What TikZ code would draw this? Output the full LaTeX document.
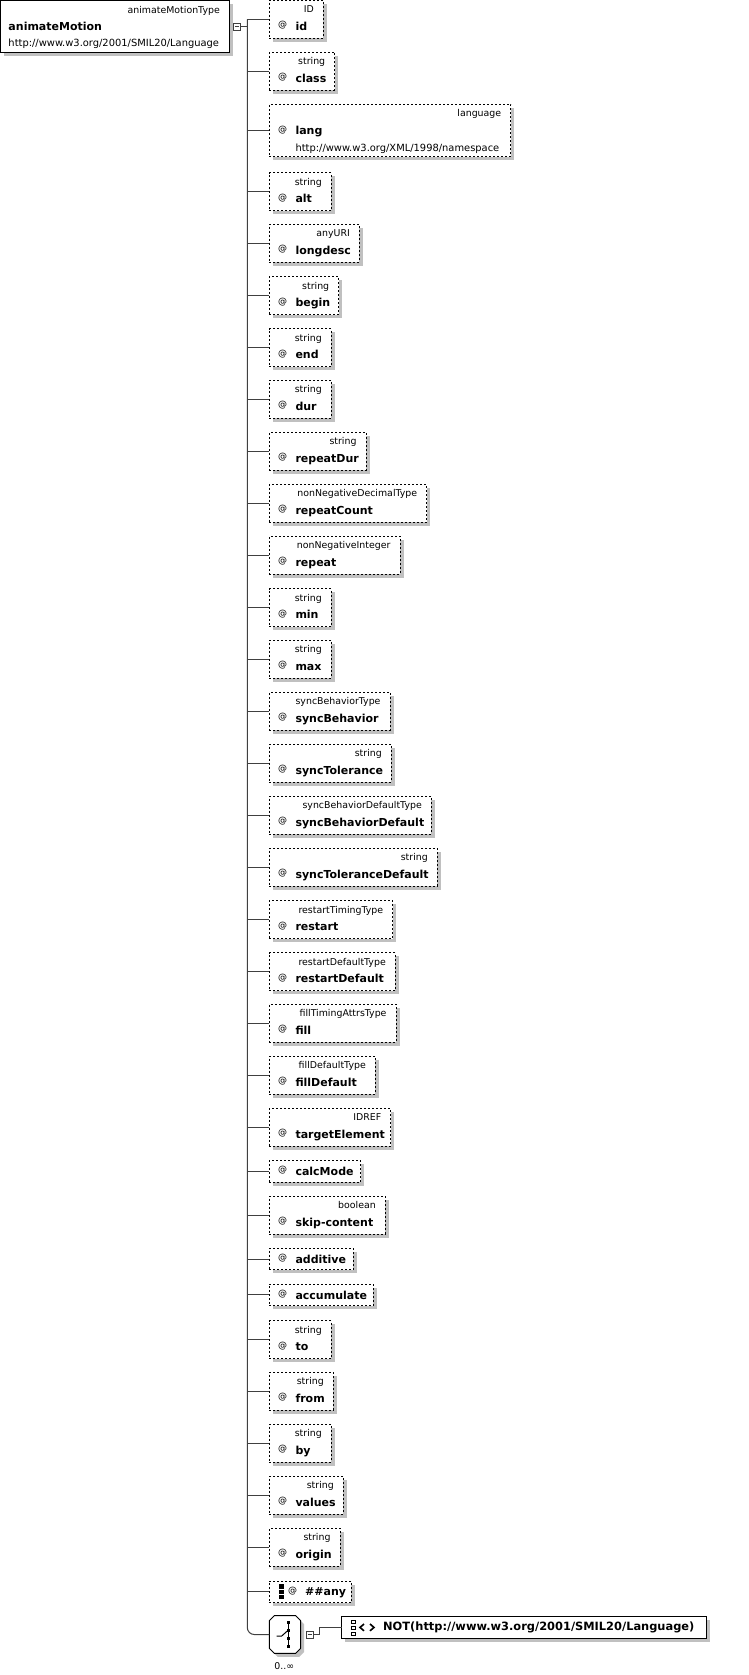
\documentclass[tikz,border=0pt]{standalone}
\usepackage{fontspec}
\setmainfont{DejaVu Sans}
\usetikzlibrary{calc,shadows}

\definecolor{linegray}{RGB}{64,64,64}
\definecolor{shadowgray}{RGB}{192,192,192}

\tikzset{
  conn/.style={draw=linegray, line width=1pt},
  boxshadow/.style={drop shadow={shadow xshift=3.5pt, shadow yshift=-3.5pt, opacity=1, fill=shadowgray}},
  attr/.style={draw=black, dash pattern=on 2pt off 2pt, line width=1pt, fill=white,
    inner sep=0pt, outer sep=0pt, anchor=north west, boxshadow},
  solidbox/.style={draw=black, line width=1pt, fill=white, inner sep=0pt, outer sep=0pt,
    anchor=north west, boxshadow},
  typelbl/.style={inner sep=0pt, anchor=base east, font=\fontsize{9.4}{11}\selectfont},
  nslbl/.style={inner sep=0pt, anchor=base west, font=\fontsize{9.9}{11}\selectfont},
  namelbl/.style={inner sep=0pt, anchor=base west, font=\fontsize{11}{13}\selectfont\bfseries},
  atlbl/.style={inner sep=0pt, anchor=base west, font=\fontsize{9}{10}\selectfont},
  minusbox/.style={draw=linegray, line width=0.8pt, fill=white, minimum size=7.4pt,
    inner sep=0pt, outer sep=0pt,
    path picture={\draw[line width=0.8pt, linegray]
      ([xshift=1.5pt]path picture bounding box.west) --
      ([xshift=-1.5pt]path picture bounding box.east);}},
}

% attribute with a type line above the name: name, top, right edge, type, label
\newcommand\attrtwo[5]{%
  \node[attr, minimum width={#3-269.3}, minimum height=37.8] (#1) at (269.3,#2) {};
  \node[typelbl] (#1-type) at ($(#1.north east)+(-9.3,12.5)$) {#4};
  \node[atlbl] (#1-at) at ($(#1.north west)+(8.5,27.5)$) {@};
  \node[namelbl] (#1-name) at ($(#1.north west)+(26,30.2)$) {#5};
  \draw[conn] (#1.west) -- (#1.west -| trunk);
}
% attribute without a type: name, top, right edge, label
\newcommand\attrone[4]{%
  \node[attr, minimum width={#3-269.3}, minimum height=21.6] (#1) at (269.3,#2) {};
  \node[atlbl] (#1-at) at ($(#1.north west)+(8.5,12.2)$) {@};
  \node[namelbl] (#1-name) at ($(#1.north west)+(26,15)$) {#4};
  \draw[conn] (#1.west) -- (#1.west -| trunk);
}

\begin{document}
\begin{tikzpicture}[x=1pt, y=-1pt]
\fill[white] (0,0) rectangle (748,1675);
\useasboundingbox (0,0) rectangle (748,1675);

\coordinate (trunk) at (247.3,0);

% element box
\node[solidbox, minimum width=228.8, minimum height=52.2] (root) at (0.5,0.5) {};
\node[typelbl] (root-type) at (220,13.3) {animateMotionType};
\node[namelbl] (root-name) at (8.3,30.7) {animateMotion};
\node[nslbl] (root-ns) at (8.3,46.7) {http://www.w3.org/2001/SMIL20/Language};
\node[minusbox] (rootcol) at (237,26.7) {};
\draw[conn] (rootcol.east) -- (rootcol.east -| trunk);

% attributes
\attrtwo{a-id}{0.5}{323.3}{ID}{id}
\attrtwo{a-class}{52.3}{334.7}{string}{class}

\node[attr, minimum width={510.7-269.3}, minimum height=52.4] (a-lang) at (269.3,104.3) {};
\node[typelbl] (a-lang-type) at ($(a-lang.north east)+(-9.3,12.4)$) {language};
\node[atlbl] (a-lang-at) at ($(a-lang.north west)+(8.5,28)$) {@};
\node[namelbl] (a-lang-name) at ($(a-lang.north west)+(26,30.7)$) {lang};
\node[nslbl] (a-lang-ns) at ($(a-lang.north west)+(26,47.4)$) {http://www.w3.org/XML/1998/namespace};
\draw[conn] (a-lang.west) -- (a-lang.west -| trunk);

\attrtwo{a-alt}{172.7}{331.3}{string}{alt}
\attrtwo{a-longdesc}{224.3}{359.3}{anyURI}{longdesc}
\attrtwo{a-begin}{276.7}{338.7}{string}{begin}
\attrtwo{a-end}{328.7}{331.3}{string}{end}
\attrtwo{a-dur}{380.3}{331.3}{string}{dur}
\attrtwo{a-repeatDur}{432.3}{366}{string}{repeatDur}
\attrtwo{a-repeatCount}{484.3}{426.7}{nonNegativeDecimalType}{repeatCount}
\attrtwo{a-repeat}{536.3}{400}{nonNegativeInteger}{repeat}
\attrtwo{a-min}{588.7}{331.3}{string}{min}
\attrtwo{a-max}{640.3}{331.3}{string}{max}
\attrtwo{a-syncBehavior}{692.3}{390}{syncBehaviorType}{syncBehavior}
\attrtwo{a-syncTolerance}{744.3}{391.3}{string}{syncTolerance}
\attrtwo{a-syncBehaviorDefault}{796.3}{431.3}{syncBehaviorDefaultType}{syncBehaviorDefault}
\attrtwo{a-syncToleranceDefault}{848.3}{437.3}{string}{syncToleranceDefault}
\attrtwo{a-restart}{900.7}{392.7}{restartTimingType}{restart}
\attrtwo{a-restartDefault}{952.7}{395.3}{restartDefaultType}{restartDefault}
\attrtwo{a-fill}{1004.3}{396}{fillTimingAttrsType}{fill}
\attrtwo{a-fillDefault}{1056.3}{375.3}{fillDefaultType}{fillDefault}
\attrtwo{a-targetElement}{1108.3}{390.7}{IDREF}{targetElement}
\attrone{a-calcMode}{1160.7}{360.7}{calcMode}
\attrtwo{a-skipcontent}{1196.3}{385.3}{boolean}{skip-content}
\attrone{a-additive}{1248.3}{353.3}{additive}
\attrone{a-accumulate}{1284}{373.3}{accumulate}
\attrtwo{a-to}{1320.7}{331.3}{string}{to}
\attrtwo{a-from}{1372.3}{333.3}{string}{from}
\attrtwo{a-by}{1424.3}{331.3}{string}{by}
\attrtwo{a-values}{1476.3}{343.3}{string}{values}
\attrtwo{a-origin}{1528.3}{340}{string}{origin}

% any attribute wildcard
\node[attr, minimum width={351.3-269.3}, minimum height=21.7] (a-any) at (269.3,1581) {};
\foreach \k in {0,1,2}
  \fill[black] (279,{1584.3+\k*5.3}) rectangle (283.7,{1588.8+\k*5.3});
\node[atlbl] (a-any-at) at (288,1593.2) {@};
\node[namelbl] (a-any-name) at (305,1595) {\#\#any};
\draw[conn] (a-any.west) -- (a-any.west -| trunk);

% sequence compositor
\node[inner sep=0pt, outer sep=0pt, minimum width=31.4, minimum height=37.6, anchor=north west] (oct) at (269.3,1615.7) {};
\draw[line width=1pt, fill=white, boxshadow]
  ($(oct.north west)+(5,0)$) -- ($(oct.north east)+(-5,0)$) -- ($(oct.north east)+(0,5)$) --
  ($(oct.south east)+(0,-5)$) -- ($(oct.south east)+(-5,0)$) -- ($(oct.south west)+(5,0)$) --
  ($(oct.south west)+(0,-5)$) -- ($(oct.north west)+(0,5)$) -- cycle;
\draw[line width=1pt] (288.3,1621.5) -- (288.3,1647);
\foreach \yy in {1622.5,1630.5,1638.5,1646.3}
  \fill[black] (286.9,{\yy-1.5}) rectangle (289.7,{\yy+1.5});
\draw[line width=1pt] (276.7,1636) -- (281.7,1636) -- (287.5,1630.8);
\node[inner sep=0pt, anchor=base, font=\fontsize{9.4}{11}\selectfont] (occ) at (284.2,1669.5) {0..∞};

\draw[conn, rounded corners=7pt] (a-id.west -| trunk) |- (oct.west);

\node[minusbox] (seqcol) at (309.7,1634.8) {};

% wildcard element
\node[solidbox, minimum width=364.5, minimum height=22.3] (notbox) at (341.5,1616) {};
\foreach \yy in {1620,1626,1632}
  \draw[line width=0.7pt] (351.5,\yy) rectangle (355.2,{\yy+3.6});
\draw[line width=1.6pt] (364,1624) -- (360,1627.4) -- (364,1630.8);
\draw[line width=1.6pt] (370,1624) -- (374,1627.4) -- (370,1630.8);
\node[inner sep=0pt, anchor=base west, font=\fontsize{11.4}{13}\selectfont\bfseries] (notbox-name) at (383,1630.7) {NOT(http://www.w3.org/2001/SMIL20/Language)};

\draw[conn] (seqcol.east) -- (319,1634.8) |- (notbox.west);
\end{tikzpicture}
\end{document}
